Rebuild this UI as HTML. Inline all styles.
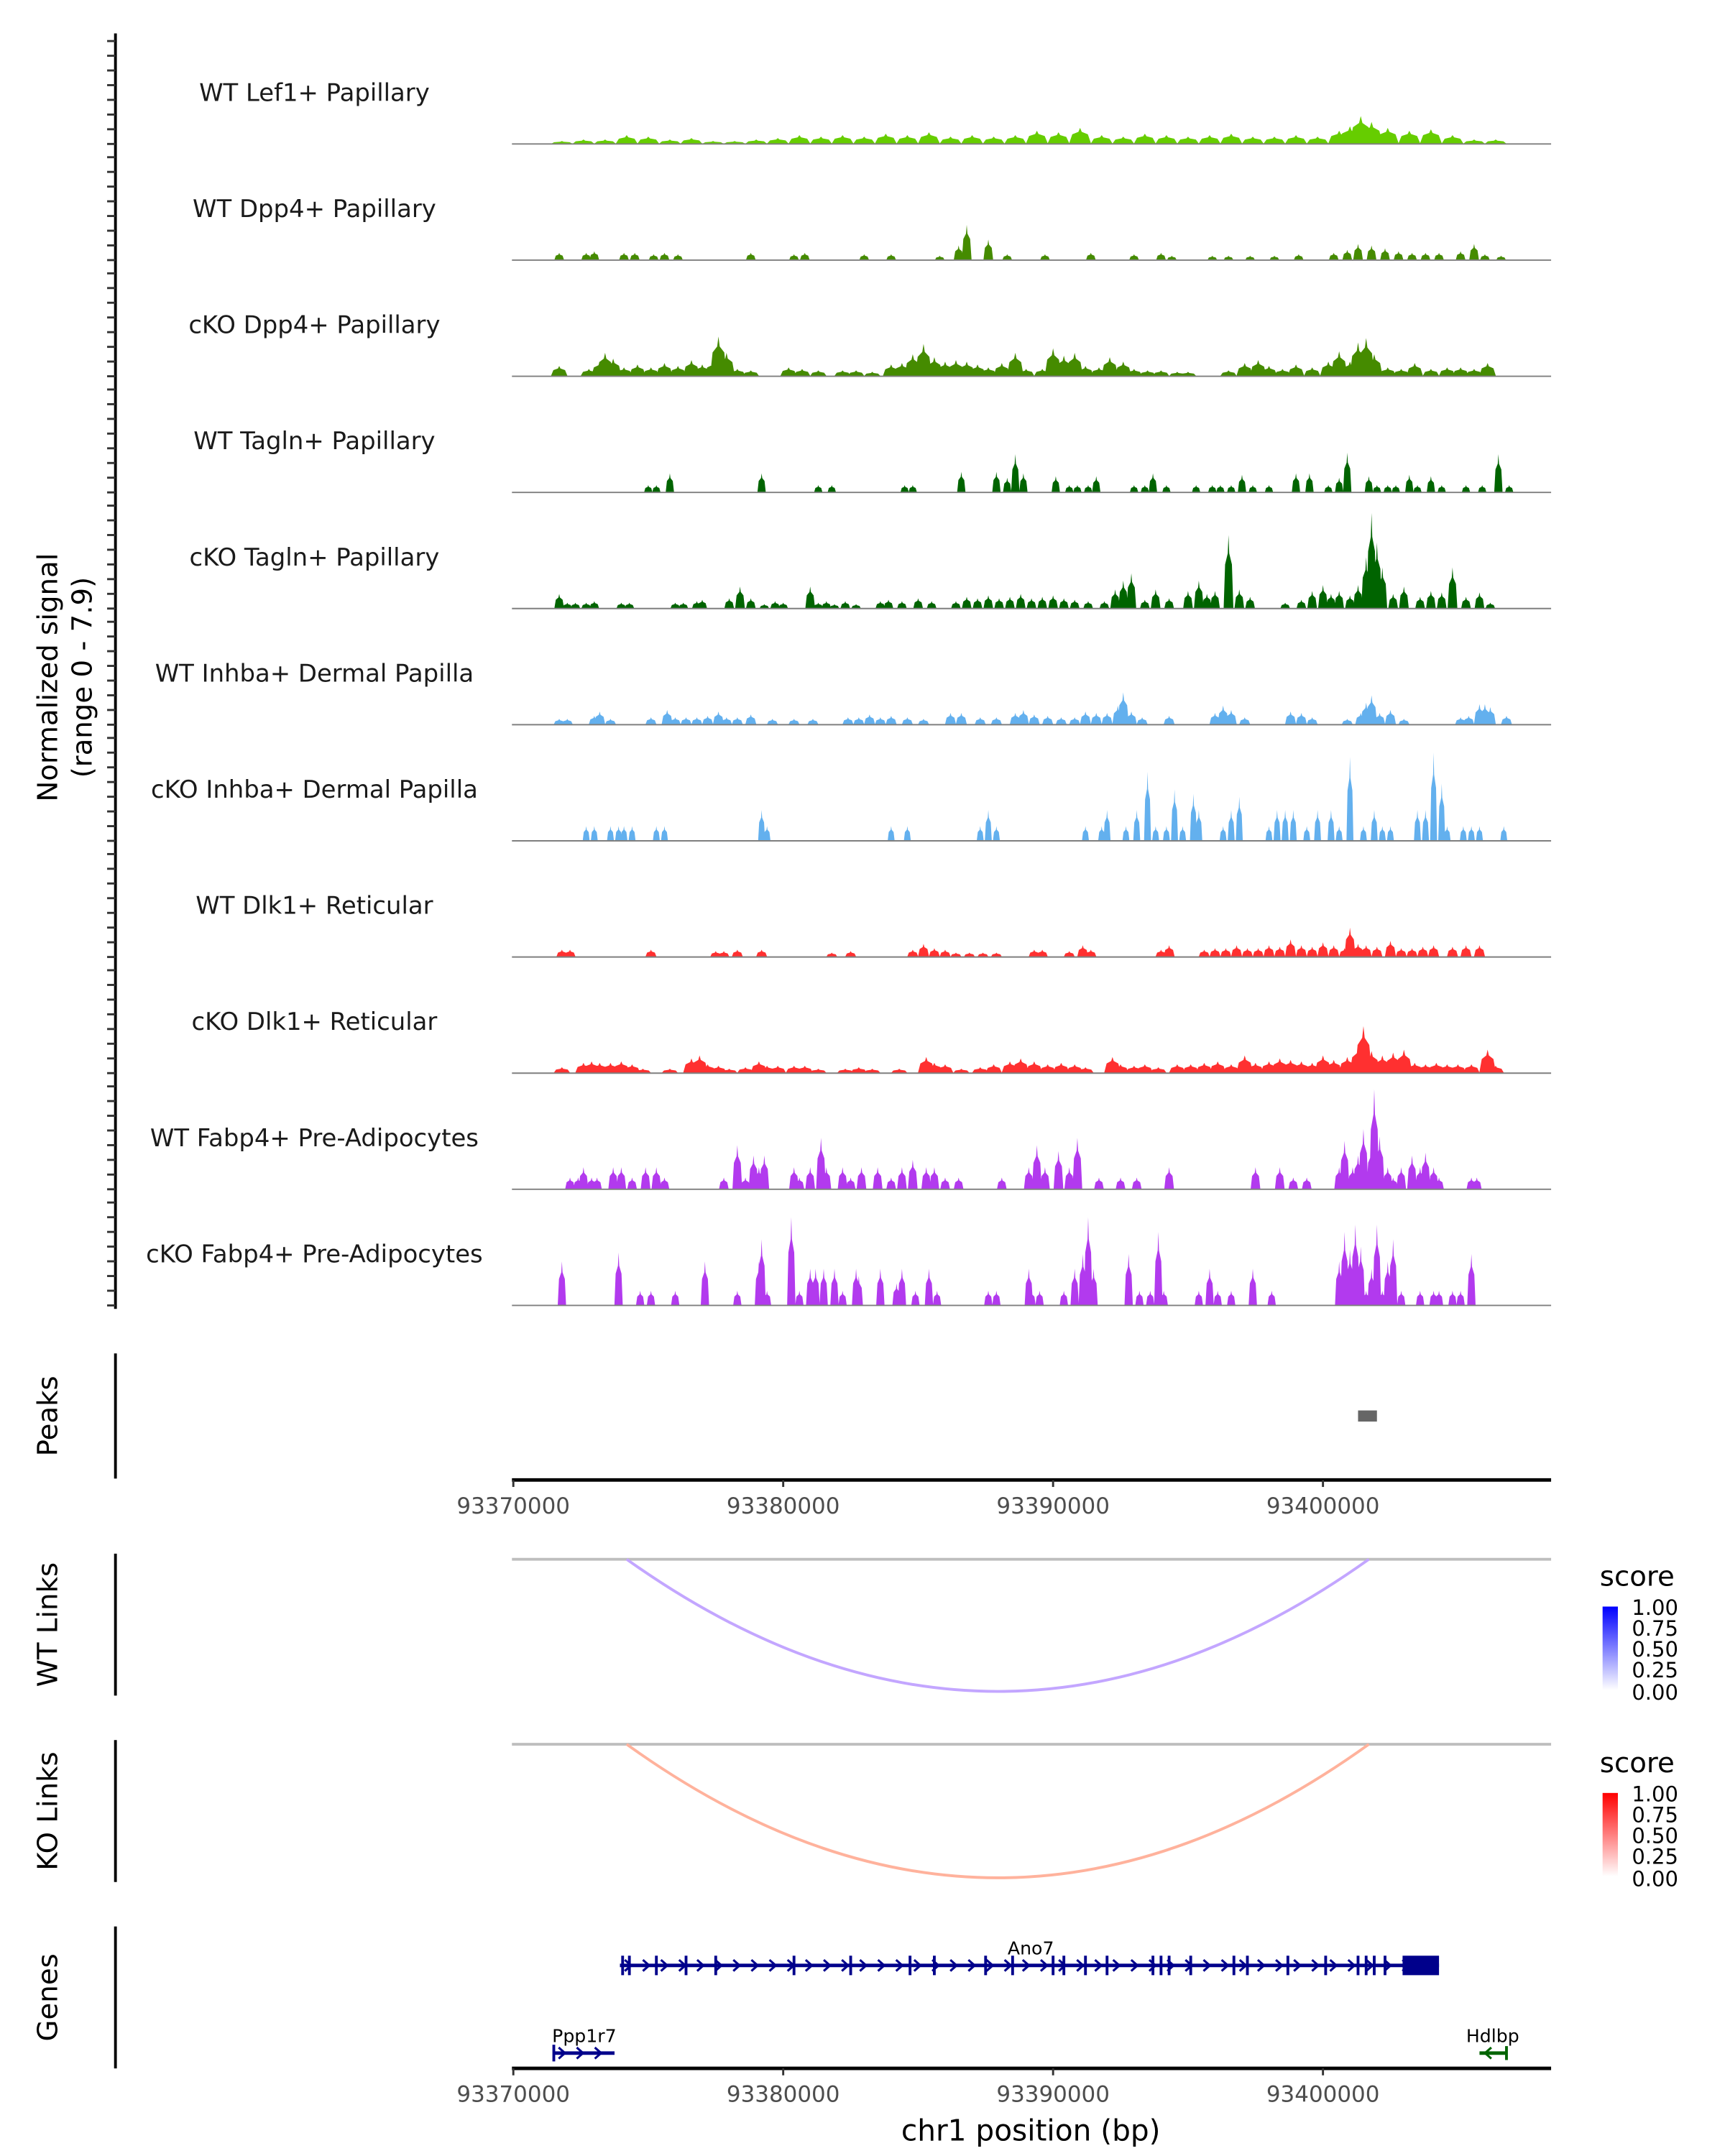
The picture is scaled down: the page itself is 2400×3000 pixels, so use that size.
<!DOCTYPE html>
<html><head><meta charset="utf-8"><style>
html,body{margin:0;padding:0;background:#fff;}
svg{display:block;}
text{font-family:"DejaVu Sans","Liberation Sans",sans-serif;}
</style></head><body>
<svg id="chart" xmlns="http://www.w3.org/2000/svg" width="2400" height="3000" viewBox="0 0 1240 1550" preserveAspectRatio="none">
<g id="tracks"></g>
<line x1="83" y1="24" x2="83" y2="941" stroke="#000" stroke-width="2"/>
<g id="yticks"></g>
<text transform="translate(41,487) rotate(-90)" text-anchor="middle" font-size="20" fill="#000">Normalized signal</text>
<text transform="translate(66,487) rotate(-90)" text-anchor="middle" font-size="20" fill="#000">(range 0 - 7.9)</text>

<line x1="83" y1="973" x2="83" y2="1063" stroke="#000" stroke-width="2"/>
<text transform="translate(41,1018) rotate(-90)" text-anchor="middle" font-size="20">Peaks</text>
<g id="peaks"></g>
<g id="xaxis1"></g>

<line x1="83" y1="1117" x2="83" y2="1219" stroke="#000" stroke-width="2"/>
<text transform="translate(41,1168) rotate(-90)" text-anchor="middle" font-size="20">WT Links</text>
<line x1="368" y1="1121" x2="1115" y2="1121" stroke="#bebebe" stroke-width="2"/>
<g id="wtlinks"></g>

<line x1="83" y1="1251" x2="83" y2="1353" stroke="#000" stroke-width="2"/>
<text transform="translate(41,1302) rotate(-90)" text-anchor="middle" font-size="20">KO Links</text>
<line x1="368" y1="1254" x2="1115" y2="1254" stroke="#bebebe" stroke-width="2"/>
<g id="kolinks"></g>

<defs>
<linearGradient id="gb" x1="0" y1="1" x2="0" y2="0"><stop offset="0" stop-color="#ffffff"/><stop offset="1" stop-color="#0000ff"/></linearGradient>
<linearGradient id="gr" x1="0" y1="1" x2="0" y2="0"><stop offset="0" stop-color="#ffffff"/><stop offset="1" stop-color="#ff0000"/></linearGradient>
</defs>
<g>
<text x="1150" y="1140" font-size="20">score</text>
<rect x="1152" y="1155" width="11" height="60" fill="url(#gb)"/>
<g font-size="15" fill="#000"><text x="1173" y="1161">1.00</text><text x="1173" y="1176">0.75</text><text x="1173" y="1191">0.50</text><text x="1173" y="1206">0.25</text><text x="1173" y="1222">0.00</text></g>
</g>
<g>
<text x="1150" y="1274" font-size="20">score</text>
<rect x="1152" y="1289" width="11" height="60" fill="url(#gr)"/>
<g font-size="15" fill="#000"><text x="1173" y="1295">1.00</text><text x="1173" y="1310">0.75</text><text x="1173" y="1325">0.50</text><text x="1173" y="1340">0.25</text><text x="1173" y="1356">0.00</text></g>
</g>

<line x1="83" y1="1385" x2="83" y2="1487" stroke="#000" stroke-width="2"/>
<text transform="translate(41,1436) rotate(-90)" text-anchor="middle" font-size="20">Genes</text>
<g id="genes"></g>
<g id="xaxis2"></g>
<text x="741" y="1539" text-anchor="middle" font-size="21">chr1 position (bp)</text>
</svg>
<script>
const trackNames = ["WT Lef1+ Papillary","WT Dpp4+ Papillary","cKO Dpp4+ Papillary","WT Tagln+ Papillary","cKO Tagln+ Papillary","WT Inhba+ Dermal Papilla","cKO Inhba+ Dermal Papilla","WT Dlk1+ Reticular","cKO Dlk1+ Reticular","WT Fabp4+ Pre-Adipocytes","cKO Fabp4+ Pre-Adipocytes"];
const trackColors = ["#66cd00","#458b00","#458b00","#006400","#006400","#63b0ee","#63b0ee","#ff3030","#ff3030","#b23aee","#b23aee"];
// positions in kb offset from 93370000, values in normalized signal
const lef1Pos=[1.8,2.6,3.4,4.2,5.0,5.8,6.6,7.4,8.2,9.0,9.8,10.6,11.4,12.2,13.0,13.8,14.6,15.4,16.2,17.0,17.8,18.6,19.4,20.2,21.0,21.8,22.6,23.4,24.2,25.0,25.8,26.6,27.4,28.2,29.0,29.8,30.6,31.0,31.4,31.8,32.4,33.2,34.0,34.8,35.6,36.4];
const lef1Val=[.2,.3,.3,.6,.5,.3,.4,.2,.2,.3,.4,.6,.5,.6,.5,.7,.6,.8,.5,.6,.5,.6,.9,.8,1.1,.6,.5,.7,.6,.5,.6,.7,.5,.5,.6,.5,.9,1.2,1.9,1.5,1.1,.9,1.0,.6,.3,.3];
const wtDpp4Pos=[1.7,2.7,3.0,4.1,4.5,5.2,5.6,6.1,8.8,10.4,10.8,13.0,14.0,15.8,16.5,16.8,17.6,18.3,19.7,21.4,23.0,24.0,24.4,25.9,26.5,27.3,28.2,29.1,30.4,30.9,31.3,31.8,32.3,32.8,33.3,33.8,34.3,35.1,35.6,36.0,36.6];
const wtDpp4Val=[.5,.5,.6,.5,.5,.4,.5,.4,.5,.4,.5,.4,.4,.3,1.0,2.4,1.4,.4,.4,.5,.4,.5,.3,.3,.3,.3,.3,.4,.5,.7,1.1,1.0,.8,.6,.5,.5,.5,.6,1.1,.4,.3];
const koDpp4Pos=[1.7,2.8,3.2,3.4,3.7,4.1,4.6,5.1,5.6,6.1,6.6,7.0,7.4,7.6,7.9,8.3,8.8,10.2,10.7,11.3,12.2,12.7,13.3,14.0,14.4,14.8,15.2,15.6,16.0,16.4,16.8,17.2,17.6,18.1,18.6,19.0,19.6,20.0,20.4,20.8,21.2,21.7,22.1,22.6,23.0,23.5,24.0,24.6,25.0,26.5,27.1,27.6,28.0,28.5,29.0,29.6,30.2,30.6,31.0,31.3,31.6,31.9,32.4,32.9,33.4,34.0,34.6,35.1,35.6,36.1];
const koDpp4Val=[.7,.5,1.0,1.6,1.2,.6,.8,.6,.9,.7,1.1,.8,1.0,2.7,1.6,.5,.4,.6,.5,.4,.4,.4,.3,.8,.9,1.5,2.2,1.3,1.0,1.1,1.0,.8,.6,.9,1.6,.5,.5,1.9,1.4,1.6,.7,.6,1.3,1.0,.5,.4,.4,.3,.3,.4,.9,1.1,.7,.5,.8,.6,1.0,1.7,1.0,2.3,2.6,1.5,.6,.5,.9,.5,.6,.6,.5,.9];
const wtTaglnPos=[5.0,5.3,5.8,9.2,11.3,11.8,14.5,14.8,16.6,17.9,18.3,18.6,18.9,20.1,20.6,20.9,21.3,21.6,23.0,23.4,23.7,24.2,25.3,25.9,26.2,26.6,27.0,27.4,28.0,29.0,29.5,30.2,30.6,30.9,31.7,32.0,32.4,32.7,33.2,33.5,34.0,34.4,35.3,35.9,36.5,36.9];
const wtTaglnVal=[.5,.5,1.3,1.3,.5,.5,.5,.5,1.4,1.4,1.0,2.6,1.3,1.1,.5,.5,.5,1.1,.5,.5,1.3,.5,.5,.5,.5,.5,1.2,.5,.5,1.3,1.3,.5,1.0,2.7,1.1,.5,.5,.5,1.2,.5,1.1,.5,.5,.5,2.6,.5];
const koTaglnPos=[1.7,2.0,2.3,2.7,3.0,4.0,4.3,6.0,6.3,6.8,7.0,8.0,8.4,8.8,9.3,9.7,10.0,11.0,11.3,11.6,11.9,12.3,12.7,13.6,13.9,14.4,15.0,15.5,16.4,16.8,17.2,17.6,18.0,18.4,18.8,19.2,19.6,20.0,20.4,20.8,21.3,21.9,22.3,22.6,22.9,23.4,23.8,24.3,25.0,25.4,25.7,26.0,26.5,26.9,27.3,28.6,29.2,29.6,30.0,30.3,30.6,31.0,31.3,31.6,31.8,32.0,32.2,32.6,33.0,33.6,34.0,34.4,34.8,35.3,35.8,36.2];
const koTaglnVal=[1.0,.4,.4,.4,.5,.4,.4,.4,.4,.5,.6,.7,1.5,.7,.3,.5,.4,1.5,.4,.5,.3,.5,.3,.5,.6,.5,.7,.5,.5,.8,.7,.9,.7,.8,1.0,.7,.8,.9,.7,.6,.5,.5,1.3,1.9,2.4,.6,1.3,.7,1.2,1.9,1.0,1.2,5.0,1.3,.8,.4,.6,1.2,1.6,1.0,1.2,.9,1.6,3.5,6.5,4.5,2.8,1.0,1.5,.8,1.2,1.1,2.8,.8,1.1,.4];
const wtInhbaPos=[1.7,2.0,3.0,3.2,3.6,5.1,5.7,6.0,6.4,6.8,7.2,7.6,7.9,8.3,8.8,9.6,10.4,11.1,12.4,12.8,13.2,13.6,14.0,14.6,15.2,16.2,16.6,17.3,17.9,18.6,18.9,19.3,19.8,20.3,20.8,21.2,21.6,22.0,22.4,22.6,22.9,23.3,24.3,26.0,26.3,26.6,27.1,28.8,29.2,29.6,30.9,31.4,31.6,31.8,32.1,32.5,33.0,35.1,35.4,35.8,36.0,36.2,36.8];
const wtInhbaVal=[.4,.4,.6,.9,.4,.5,1.0,.5,.5,.5,.6,.9,.5,.5,.7,.4,.4,.4,.5,.5,.7,.5,.6,.5,.4,.8,.8,.5,.5,.8,1.0,.7,.6,.5,.5,.9,.8,.8,1.3,2.2,.9,.5,.6,.8,1.3,1.0,.5,.9,.8,.5,.4,.8,1.5,2.0,.8,1.0,.4,.5,.6,1.4,1.4,1.2,.6];
const koInhbaPos=[2.7,3.0,3.6,3.9,4.1,4.4,5.3,5.6,9.2,9.4,14.0,14.6,17.3,17.6,17.9,21.2,21.8,22.0,22.7,23.1,23.5,23.8,24.2,24.5,24.8,25.2,25.4,26.3,26.6,26.9,28.0,28.3,28.6,28.9,29.4,29.8,30.3,30.6,31.0,31.5,31.9,32.2,32.5,33.5,33.8,34.1,34.4,34.6,35.2,35.5,35.8,36.7];
const koInhbaVal=[1.0,1.0,1.0,1.0,1.0,1.0,1.0,1.0,2.1,1.0,1.0,1.0,1.0,2.1,1.0,1.0,1.0,2.1,1.0,2.1,4.7,1.0,1.0,3.5,1.0,3.2,2.1,1.0,2.1,3.0,1.0,2.1,2.1,2.1,1.0,2.1,2.1,1.0,5.7,1.0,2.1,1.0,1.0,2.1,2.1,6.0,3.9,1.0,1.0,1.0,1.0,1.0];
const wtDlk1Pos=[1.8,2.1,5.1,7.5,7.8,8.3,9.2,11.8,12.5,14.8,15.2,15.6,16.0,16.4,16.9,17.4,17.9,19.3,19.6,20.6,21.1,21.4,24.0,24.3,25.6,26.0,26.4,26.8,27.2,27.6,28.0,28.4,28.8,29.2,29.6,30.0,30.4,30.8,31.0,31.3,31.6,32.0,32.5,32.9,33.3,33.7,34.1,34.8,35.3,35.8];
const wtDlk1Val=[.5,.5,.5,.4,.4,.5,.5,.3,.4,.5,.9,.6,.5,.3,.3,.3,.3,.5,.5,.4,.8,.5,.5,.8,.5,.6,.6,.8,.6,.6,.8,.7,1.2,.8,.7,1.0,.8,.6,2.0,.9,.8,.7,1.1,.6,.6,.7,.8,.7,.8,.8];
const koDlk1Pos=[1.8,2.6,2.9,3.2,3.6,4.0,4.4,4.8,5.8,6.6,6.9,7.2,7.6,8.0,8.6,9.1,9.4,9.8,10.4,10.8,11.3,12.3,12.8,13.3,14.3,15.3,15.6,16.0,16.6,17.3,17.8,18.4,18.8,19.3,19.8,20.3,20.8,21.2,22.2,22.5,23.0,23.4,23.9,24.6,25.1,25.6,26.1,26.6,27.1,27.5,28.0,28.4,28.8,29.2,29.6,30.0,30.4,30.9,31.3,31.5,31.8,32.2,32.6,33.0,33.4,33.8,34.2,34.6,35.0,35.5,36.1,36.4];
const koDlk1Val=[.4,.7,.8,.7,.7,.8,.6,.3,.3,1.0,1.2,.6,.5,.3,.4,.8,.5,.5,.5,.5,.3,.3,.4,.3,.3,1.1,.7,.6,.3,.4,.6,.8,1.0,.8,.6,.7,.6,.4,1.1,.6,.5,.6,.4,.6,.6,.7,.8,.6,1.2,.7,.8,1.0,.9,.8,.7,1.2,.9,1.1,1.8,3.2,1.5,1.2,1.4,1.6,.7,.6,.7,.6,.6,.6,1.6,.5];
const wtFabp4Pos=[2.1,2.4,2.6,2.9,3.1,3.7,4.0,4.4,4.9,5.3,5.6,7.8,8.3,8.6,8.9,9.1,9.3,10.4,10.6,11.0,11.4,11.6,12.2,12.5,12.9,13.5,14.0,14.4,14.8,15.3,15.6,16.0,16.5,18.1,19.1,19.4,19.7,20.2,20.6,20.9,21.7,22.5,23.1,24.3,27.5,28.4,28.9,29.4,30.6,30.8,31.1,31.3,31.5,31.8,31.9,32.1,32.4,32.6,32.9,33.3,33.6,33.8,34.1,34.3,35.5,35.7];
const wtFabp4Val=[.8,.8,1.5,.8,.8,1.5,1.5,.8,1.5,1.5,.8,.8,3.0,.8,2.3,1.5,2.3,1.5,.8,1.5,3.5,1.5,1.5,.8,1.5,1.5,.8,1.5,2.0,1.5,1.5,.8,.8,.8,1.5,3.0,1.5,2.6,1.5,3.5,.8,.8,.8,1.5,1.5,1.5,.8,.8,1.5,3.3,1.5,2.3,4.1,3.0,6.8,3.6,1.5,.8,1.5,2.3,1.5,2.5,1.5,.8,.8,.8];
const koFabp4Pos=[1.8,3.9,4.7,5.1,6.0,7.1,8.3,9.1,9.2,9.4,10.3,10.6,11.0,11.2,11.5,11.9,12.2,12.7,12.8,13.6,14.2,14.4,14.9,15.4,15.7,17.6,17.9,19.1,19.2,19.5,20.4,20.8,21.1,21.3,21.5,22.8,23.2,23.6,23.9,24.1,25.4,25.8,26.1,26.6,27.4,28.1,30.6,30.8,31.0,31.2,31.4,31.6,31.8,32.0,32.2,32.4,32.6,32.9,33.6,34.1,34.3,34.8,35.1,35.5];
const koFabp4Val=[3.0,3.6,1.0,1.0,1.0,3.0,1.0,3.0,4.5,1.0,6.0,1.0,2.5,2.5,2.5,2.5,1.0,2.5,2.0,2.5,1.5,2.5,1.0,2.5,1.0,1.0,1.0,2.5,1.0,1.0,1.0,2.5,3.5,6.0,2.5,3.5,1.0,1.0,5.0,1.0,1.0,2.5,1.0,1.0,2.5,1.0,3.0,5.0,3.8,5.5,4.0,1.0,2.5,5.5,1.0,3.0,4.5,1.0,1.0,1.0,1.0,1.0,1.0,3.5];
const trackPos=[lef1Pos,wtDpp4Pos,koDpp4Pos,wtTaglnPos,koTaglnPos,wtInhbaPos,koInhbaPos,wtDlk1Pos,koDlk1Pos,wtFabp4Pos,koFabp4Pos];
const trackVal=[lef1Val,wtDpp4Val,koDpp4Val,wtTaglnVal,koTaglnVal,wtInhbaVal,koInhbaVal,wtDlk1Val,koDlk1Val,wtFabp4Val,koFabp4Val];
const xTicks=[93370000,93380000,93390000,93400000];
const peakStart=[93401300];
const peakEnd=[93402000];
const wtLinkStart=[93374200]; const wtLinkEnd=[93401700]; const wtLinkScore=[0.35];
const koLinkStart=[93374200]; const koLinkEnd=[93401700]; const koLinkScore=[0.35];
const ano7Exons=[93374050,93374300,93375300,93376400,93377500,93380400,93382500,93384700,93385600,93387500,93388500,93390000,93390400,93391200,93392000,93393700,93394000,93394300,93395100,93396700,93397200,93398700,93400100,93401300,93401600,93401900,93402300];
const ano7Start=[93373950]; const ano7End=[93404300]; const ano7CdsEnd=[93402950];
const ppp1r7Start=[93371500]; const ppp1r7End=[93373750];
const hdlbpStart=[93405800]; const hdlbpEnd=[93406800];

const NS="http://www.w3.org/2000/svg";
const X0=369, PXKB=19.4, UNIT=83.5/7.9;
const halfW=[8,3.5,6,3,3.5,4,2.5,4,6,3.5,3];
function xs(bp){return X0+(bp-93370000)/1000*PXKB;}
function xk(kb){return X0+kb*PXKB;}
function mk(tag,attrs,parent){const e=document.createElementNS(NS,tag);for(const k in attrs)e.setAttribute(k,attrs[k]);parent.appendChild(e);return e;}

const tracks=document.getElementById('tracks');
for(let i=0;i<trackNames.length;i++){
  const base=103.5+i*83.5;
  const g=mk('g',{},tracks);
  
  
  const t=mk('text',{x:226,y:base-31,'text-anchor':'middle','font-size':'17.5',fill:'#1a1a1a'},g);
  t.textContent=trackNames[i];
  
  
  let d='';const w=halfW[i];
  const P=trackPos[i],V=trackVal[i];
  for(let j=0;j<P.length;j++){
    const x=xk(P[j]),h=V[j]*UNIT;
    d+=`M${(x-w).toFixed(2)},${base}L${(x-w*0.7).toFixed(2)},${(base-h*0.6).toFixed(2)}L${(x-w*0.15).toFixed(2)},${(base-h*0.75).toFixed(2)}L${x.toFixed(2)},${(base-h).toFixed(2)}L${(x+w*0.15).toFixed(2)},${(base-h*0.75).toFixed(2)}L${(x+w*0.7).toFixed(2)},${(base-h*0.6).toFixed(2)}L${(x+w).toFixed(2)},${base}Z`;
  }
  const p=mk('path',{d:d,fill:trackColors[i]},g);
  
  
  const l=mk('line',{x1:368,y1:base,x2:1115,y2:base,stroke:'#7f7f7f','stroke-width':1},g);
  
  
}
const yt=document.getElementById('yticks');
for(let i=0;i<11;i++){const base=103.5+i*83.5;for(let k=0;k<8;k++){
  const y=base-k*UNIT;
  const l=mk('line',{x1:77,y1:y,x2:83,y2:y,stroke:'#333','stroke-width':1.5},yt);
  
  
}}
const pk=document.getElementById('peaks');
for(let i=0;i<peakStart.length;i++){
  const r=mk('rect',{x:xs(peakStart[i]),y:1014,width:xs(peakEnd[i])-xs(peakStart[i]),height:8,fill:'#666'},pk);
  
  
}
function xaxis(id,y){
  const g=document.getElementById(id);
  mk('line',{x1:368,y1:y,x2:1115,y2:y,stroke:'#000','stroke-width':2.5},g);
  xTicks.forEach(v=>{
    const x=xs(v);
    mk('line',{x1:x,y1:y,x2:x,y2:y+5,stroke:'#333','stroke-width':1.5},g);
    const t=mk('text',{x:x,y:y+24,'text-anchor':'middle','font-size':'16',fill:'#4d4d4d'},g);
    t.textContent=String(v);
    
    
  });
}
xaxis('xaxis1',1064);xaxis('xaxis2',1487);
function links(id,S,E,base,depth,color){
  const g=document.getElementById(id);
  for(let i=0;i<S.length;i++){
    const a=xs(S[i]),b=xs(E[i]);
    const p=mk('path',{d:`M${a},${base}Q${(a+b)/2},${base+2*depth} ${b},${base}`,fill:'none',stroke:color,'stroke-width':2},g);
    
    
  }
}
links('wtlinks',wtLinkStart,wtLinkEnd,1121,95,'#c3a6ff');
links('kolinks',koLinkStart,koLinkEnd,1254,96,'#ffb29c');

const gn=document.getElementById('genes');
function gene(name,s,e,y,color,dir,lx){
  const g=mk('g',{},gn);
  
  
  const a=xs(s),b=xs(e);
  mk('line',{x1:a,y1:y,x2:b,y2:y,stroke:color,'stroke-width':2.5},g);
  for(let x=a+6;x<b-3;x+=13){
    const d=dir>0?`M${x-2.5},${y-4}L${x+2},${y}L${x-2.5},${y+4}`:`M${x+2.5},${y-4}L${x-2},${y}L${x+2.5},${y+4}`;
    mk('path',{d:d,fill:'none',stroke:color,'stroke-width':1.6},g);
  }
  const t=mk('text',{x:lx,y:y-8,'text-anchor':'middle','font-size':'13',fill:'#000'},g);
  t.textContent=name;
  
  
  return g;
}
const ag=gene('Ano7',ano7Start[0],ano7End[0],1413,'#00008b',1,741);
ano7Exons.forEach(v=>{const x=xs(v);const l=mk('line',{x1:x,y1:1406,x2:x,y2:1420,stroke:'#00008b','stroke-width':2},ag);
  
  });
const box=mk('rect',{x:xs(ano7CdsEnd[0]),y:1406,width:xs(ano7End[0])-xs(ano7CdsEnd[0]),height:14,fill:'#00008b'},ag);


const pg=gene('Ppp1r7',ppp1r7Start[0],ppp1r7End[0],1476,'#00008b',1,420);
mk('line',{x1:xs(ppp1r7Start[0]),y1:1470,x2:xs(ppp1r7Start[0]),y2:1482,stroke:'#00008b','stroke-width':2},pg);
const hg=gene('Hdlbp',hdlbpStart[0],hdlbpEnd[0],1476,'#006400',-1,1073);
mk('line',{x1:xs(hdlbpEnd[0]),y1:1471,x2:xs(hdlbpEnd[0]),y2:1481,stroke:'#006400','stroke-width':2},hg);
</script>
</body></html>
